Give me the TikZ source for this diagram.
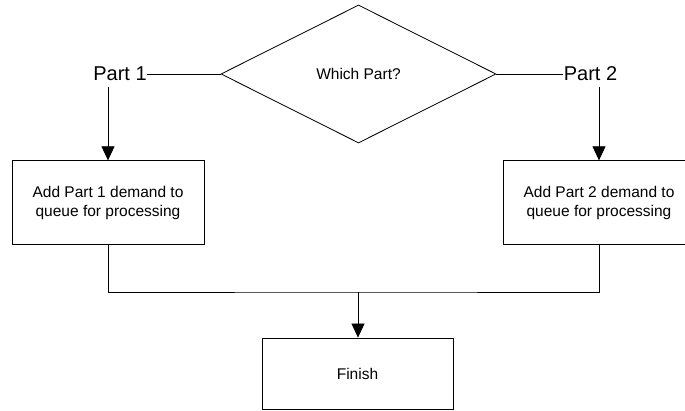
\documentclass[tikz,border=0pt]{standalone}
\usepackage{fontspec}
\setmainfont{Liberation Sans}
\usetikzlibrary{shapes.geometric,arrows.meta}
\begin{document}
\begin{tikzpicture}[x=1pt,y=-1pt,
  line width=0.8pt,
  label/.style={inner sep=0pt,font=\fontsize{20}{24}\selectfont},
  procbox/.style={draw,rectangle,minimum width=192pt,minimum height=83.5pt,
    align=center,inner sep=0pt,font=\fontsize{15.5}{19}\selectfont},
  endbox/.style={draw,rectangle,minimum width=191pt,minimum height=71pt,
    inner sep=0pt,font=\fontsize{15.5}{19}\selectfont},
  decision/.style={draw,diamond,minimum width=275pt,minimum height=138pt,
    inner sep=0pt,font=\fontsize{15.5}{19}\selectfont},
  flow/.style={-{Triangle[length=14pt,width=13pt]}}]
  \useasboundingbox (0,0) rectangle (685,411);
  \clip (0,0) rectangle (685,411);

  % decision and its two branch labels
  \node[decision] (d) at (358.5,74) {Which Part?};
  \node[label] (p1) at (120,74) {Part 1};
  \node[label] (p2) at (590.5,74) {Part 2};
  \draw (p1.east) -- (d.west);
  \draw (d.east) -- (p2.west);

  % processing boxes
  \node[procbox] (b1) at (108,202.5) {Add Part 1 demand to\\queue for processing};
  \node[procbox] (b2) at (599,202.5) {Add Part 2 demand to\\queue for processing};

  % final box
  \node[endbox] (fin) at (357.5,373.5) {Finish};

  % arrows from the branch labels
  \coordinate (a1) at (108,87);
  \coordinate (a2) at (599,87);
  \draw[flow] (a1) -- (b1.north);
  \draw[flow] (a2) -- (b2.north);

  % merge of both branches
  \coordinate (m) at (358,292);
  \draw (b1.south) |- (m) -| (b2.south);
  \draw[flow] (m) -- (fin.north -| m);
\end{tikzpicture}
\end{document}
